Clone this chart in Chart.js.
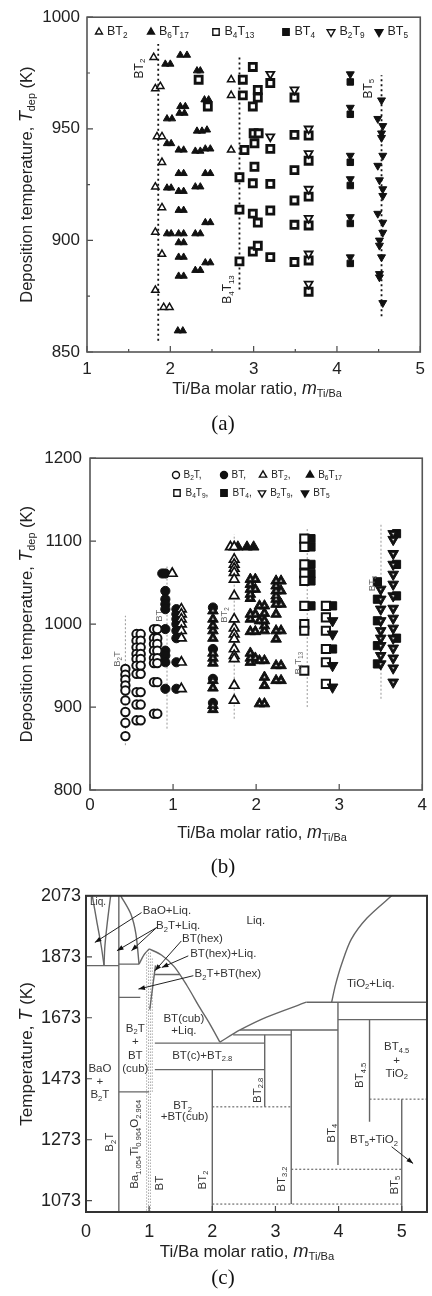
<!DOCTYPE html>
<html>
<head>
<meta charset="utf-8">
<script src="https://cdn.jsdelivr.net/npm/chart.js@4.4.0/dist/chart.umd.min.js"></script>
<style>
  body { margin: 0; background: #fff; width: 432px; height: 1296px; position: relative; overflow: hidden; }
  canvas { position: absolute; left: 0; }
</style>
</head>
<body>
<canvas id="ca" width="432" height="440" style="top:0px"></canvas>
<canvas id="cb" width="432" height="440" style="top:440px"></canvas>
<canvas id="cc" width="432" height="416" style="top:880px"></canvas>
<script>
// ---------- panel (a): deposition temperature vs Ti/Ba, [m, T] ----------
const aBT2 = [[1.80, 982], [1.82, 968], [1.88, 969], [1.84, 946.5], [1.90, 946.5], [1.90, 935], [1.82, 924],
  [1.90, 914.7], [1.82, 903.7], [1.90, 893.8], [1.82, 877.7], [1.92, 870], [1.99, 870],
  [2.73, 972], [2.73, 965], [2.73, 940.5]]
const aB6T17 = [[1.94, 979], [2.00, 979], [2.12, 983], [2.20, 983], [2.32, 976], [2.36, 976], [2.41, 963], [2.46, 963],
  [2.12, 960], [2.18, 960], [2.11, 957], [2.17, 957], [1.96, 954.5], [2.02, 954.5], [2.32, 949], [2.38, 949], [2.44, 949.5],
  [1.96, 943.4], [2.01, 943.4], [2.10, 940.5], [2.16, 940.5], [2.30, 940], [2.36, 940], [2.42, 941], [2.48, 941],
  [2.10, 930], [2.16, 930], [2.42, 930], [2.48, 930], [1.96, 923.5], [2.01, 923.5], [2.10, 922], [2.16, 922],
  [2.30, 924], [2.36, 924], [2.10, 913.5], [2.16, 913.5], [2.42, 908], [2.48, 908], [1.96, 903], [2.01, 903],
  [2.10, 903], [2.16, 903], [2.10, 899], [2.16, 899], [2.30, 903], [2.36, 903], [2.10, 892.5], [2.16, 892.5],
  [2.42, 890], [2.48, 890], [2.30, 886.6], [2.36, 886.6], [2.10, 884], [2.16, 884], [2.09, 859.5], [2.15, 859.5]]
const aB4T13 = [[2.87, 972], [2.87, 965], [2.89, 940.5], [2.83, 928.3], [2.83, 913.8], [2.83, 890.6], [2.34, 972], [2.45, 960],
  [2.99, 977.7], [3.05, 967.4], [3.05, 964], [2.99, 960], [3.00, 948], [3.06, 948], [3.01, 943.5], [3.01, 933],
  [2.99, 925.6], [2.99, 912], [3.05, 908], [2.99, 895], [3.05, 897.6],
  [3.20, 970.5], [3.20, 941], [3.20, 925.3], [3.20, 913.4], [3.20, 892.5],
  [3.49, 964], [3.49, 947.3], [3.49, 931.5], [3.49, 917.9], [3.49, 907], [3.49, 890.3],
  [3.66, 947], [3.66, 935.7], [3.66, 919.6], [3.66, 906.7], [3.66, 891], [3.66, 877]]
const aBT4 = [[4.16, 971], [4.16, 956.5], [4.16, 935], [4.16, 924.6], [4.16, 907.6], [4.16, 889.7]]
const aB2T9 = [[3.20, 974.5], [3.20, 946.5], [3.49, 967.5], [3.66, 950], [3.66, 939], [3.66, 923], [3.66, 910],
  [3.66, 894], [3.66, 880.5]]
const aBT5 = [[4.16, 974.5], [4.16, 959.5], [4.16, 938], [4.16, 927.5], [4.16, 910.5], [4.16, 892.5],
  [4.535, 962.8], [4.49, 954.5], [4.55, 951.3], [4.535, 948], [4.535, 946], [4.55, 938], [4.49, 933.5], [4.51, 927],
  [4.55, 923], [4.55, 920], [4.49, 912], [4.55, 908], [4.55, 903.5], [4.51, 900], [4.51, 897.7], [4.535, 892.5],
  [4.51, 885], [4.51, 883.5], [4.55, 872]]
// composition guide lines [m, T bottom, T top, label, label m, label T]
const aGuides = [[1.855, 855, 988, 'BT_{2}', 1.63, 977], [2.83, 878, 982, 'B_{4}T_{13}', 2.69, 878], [4.535, 866, 974, 'BT_{5}', 4.38, 968]]
const aXTicks = [1, 2, 3, 4, 5]
const aXMinor = [1.5, 2.5, 3.5, 4.5]
const aYTicks = [850, 900, 950, 1000]
const aYMinor = [875, 925, 975]

// ---------- panel (b): columns [m, [T...]] ----------
const bB2T = [[0.426, [946, 939, 933, 926, 920, 908, 894, 881, 865]],
  [0.56, [988, 980, 972, 964, 958, 950, 940, 918, 903, 884]],
  [0.61, [988, 980, 972, 964, 958, 950, 940, 918, 903, 884]],
  [0.77, [994, 983, 976, 968, 959, 953, 930, 892]],
  [0.81, [994, 983, 976, 968, 959, 953, 930, 892]]]
const bBT = [[0.87, [1061]], [0.907, [1061, 1040, 1030, 1024, 1018, 994, 968, 962, 954, 922]],
  [1.04, [1018, 1012, 1006, 1000, 992, 983, 954, 922]], [1.48, [1020, 970, 934, 905]]]
const bBT2 = [[0.99, [1061]], [1.10, [1018, 1012, 1006, 1000, 992, 983, 954, 922]], [1.69, [1093]],
  [1.736, [1093, 1078, 1072, 1067, 1062, 1054, 1034, 1006, 995, 988, 982, 970, 962, 958, 926, 908]]]
const bB6T17 = [[1.48, [1016, 1006, 998, 992, 983, 965, 959, 953, 932, 923, 902, 897]],
  [1.78, [1093]], [1.89, [1093]], [1.97, [1093]],
  [1.93, [1054, 1048, 1042, 1036, 1031, 1012, 1006, 991, 965, 959, 954]],
  [1.99, [1054, 1042, 1012, 991, 959]],
  [2.04, [1022, 1004, 956, 904]],
  [2.10, [1022, 1013, 1004, 998, 992, 956, 936, 926, 904]],
  [2.24, [1052, 1046, 1040, 1034, 1030, 1024, 1012, 992, 982, 950, 932]],
  [2.30, [1052, 1040, 1024, 992, 950, 932]]]
const bB4T9 = [[2.58, [1103, 1093, 1072, 1061, 1052, 1022, 1000, 992, 944]], [2.84, [1022, 1008, 992, 970, 954, 928]]]
const bBT4 = [[2.66, [1103, 1093, 1072, 1061, 1052, 1022]], [2.92, [1022, 970]],
  [3.46, [1051, 1030, 1004, 974, 952]], [3.69, [1109, 1072, 1034, 983]]]
const bBT5 = [[2.92, [1004, 988, 950, 924]], [3.50, [1042, 1030, 1018, 1004, 992, 983, 974, 962, 952]],
  [3.65, [1109, 1102, 1085, 1072, 1060, 1048, 1034, 1019, 1007, 995, 983, 971, 959, 947, 930]]]
const bGuides = [[0.426, 854, 1010, 'B_{2}T', 0.33, 958], [0.927, 874, 1072, 'BT', 0.83, 1010],
  [1.736, 886, 1108, 'BT_{2}', 1.62, 1011], [2.615, 900, 1115, 'B_{4}T_{13}', 2.51, 953], [3.503, 910, 1120, 'BT_{4}', 3.40, 1049]]
const bXTicks = [0, 1, 2, 3, 4]
const bYTicks = [800, 900, 1000, 1100, 1200]

// ---------- panel (c): phase diagram lines [m, T] ----------
const cSolid = [
  [[0.52, 1036], [0.52, 2073]],
  [[0, 1844], [0.52, 1844]],
  [[0.52, 1849], [0.84, 1849]],
  [[0.10, 2073], [0.17, 1990], [0.24, 1910], [0.285, 1846]],
  [[0.39, 2073], [0.34, 1990], [0.30, 1910], [0.285, 1846]],
  [[0.55, 2073], [0.71, 2013], [0.79, 1948], [0.84, 1849]],
  [[0.84, 1849], [0.92, 1880], [1.0, 1899]],
  [[1.0, 1899], [1.2, 1878], [1.4, 1840], [1.6, 1778], [1.8, 1707], [1.96, 1653], [2.12, 1593]],
  [[2.12, 1593], [2.44, 1633], [2.86, 1675], [3.49, 1724]],
  [[3.49, 1724], [5.4, 1724]],
  [[3.89, 1724], [3.95, 1780], [4.05, 1850], [4.2, 1930], [4.45, 2000], [4.84, 2073]],
  [[3.99, 1190], [3.99, 1724]],
  [[3.99, 1667], [5.4, 1667]],
  [[4.49, 1332], [4.49, 1667]],
  [[5.0, 1036], [5.0, 1406]],
  [[3.25, 1062], [3.25, 1633]],
  [[2.0, 1036], [2.0, 1503]],
  [[2.83, 1381], [2.83, 1617]],
  [[2.44, 1633], [3.99, 1633]],
  [[2.33, 1617], [3.25, 1617]],
  [[1.09, 1590], [2.83, 1590]],
  [[1.09, 1503], [2.83, 1503]],
  [[1.08, 1815], [1.49, 1815]],
  [[0.52, 1740], [0.86, 1740]],
  [[0.52, 1430], [1.0, 1430]],
  [[1.10, 1845], [1.01, 1700]]]
const cDotted = [
  [[4.49, 1406], [5.4, 1406]],
  [[3.25, 1176], [5.0, 1176]],
  [[2.0, 1062], [5.0, 1062]],
  [[2.0, 1381], [3.25, 1381]]]
const cHatch = [
  [[0.96, 1040], [0.96, 1885]],
  [[0.99, 1036], [0.99, 1895]],
  [[1.02, 1036], [1.02, 1890]],
  [[1.05, 1430], [1.05, 1870]]]
const cArrows = [[0.88, 2018, 0.14, 1920], [1.12, 1969, 0.49, 1893], [1.12, 1969, 0.72, 1893],
  [1.51, 1925, 1.09, 1827], [1.62, 1876, 1.20, 1838], [1.70, 1811, 0.83, 1767], [4.84, 1250, 5.18, 1195]]
// [text, m, T, align, rotated]
const cLabels = [
  ['Liq.', 0.19, 2052, 'center'],
  ['BaO+Liq.', 0.90, 2023, 'left'], ['B_{2}T+Liq.', 1.11, 1974, 'left'], ['BT(hex)', 1.52, 1932, 'left'],
  ['BT(hex)+Liq.', 1.65, 1882, 'left'], ['B_{2}T+BT(hex)', 1.72, 1816, 'left'],
  ['Liq.', 2.69, 1991, 'center'], ['TiO_{2}+Liq.', 4.51, 1784, 'center'],
  ['BT(cub)', 1.55, 1669, 'center'], ['+Liq.', 1.55, 1629, 'center'], ['BT(c)+BT_{2.8}', 1.84, 1549, 'center'],
  ['B_{2}T', 0.78, 1637, 'center'], ['+', 0.78, 1593, 'center'], ['BT', 0.78, 1549, 'center'], ['(cub)', 0.78, 1506, 'center'],
  ['BaO', 0.22, 1506, 'center'], ['+', 0.22, 1462, 'center'], ['B_{2}T', 0.22, 1419, 'center'],
  ['BT_{2}', 1.53, 1383, 'center'], ['+BT(cub)', 1.56, 1349, 'center'],
  ['BT_{4.5}', 4.92, 1577, 'center'], ['+', 4.92, 1533, 'center'], ['TiO_{2}', 4.92, 1490, 'center'],
  ['BT_{5}+TiO_{2}', 4.56, 1272, 'center'],
  ['BT_{2.8}', 2.72, 1435, 'center', true], ['BT_{4.5}', 4.34, 1484, 'center', true],
  ['B_{2}T', 0.38, 1265, 'center', true], ['Ba_{1.054}Ti_{0.964}O_{2.964}', 0.78, 1258, 'center', true],
  ['BT', 1.17, 1131, 'center', true], ['BT_{2}', 1.85, 1141, 'center', true], ['BT_{3.2}', 3.10, 1144, 'center', true],
  ['BT_{4}', 3.89, 1294, 'center', true], ['BT_{5}', 4.89, 1124, 'center', true]]
const cXTicks = [0, 1, 2, 3, 4, 5]
const cYTicks = [1073, 1273, 1473, 1673, 1873, 2073]

const SANS = '"Liberation Sans", Arial, Helvetica, sans-serif'
const SERIF = '"Liberation Serif", "Times New Roman", serif'

// text with _{sub} and *italic*
function rich(ctx, str, x, y, size, o = {}) {
  let segs = []
  let re = /_\{([^}]*)\}|\*([^*]*)\*|([^_*]+)/g
  let m
  while ((m = re.exec(str)) !== null) {
    if (m[1] !== undefined) segs.push({ t: m[1], sub: true })
    else if (m[2] !== undefined) segs.push({ t: m[2], it: true })
    else segs.push({ t: m[3] })
  }
  let fam = o.family || SANS
  let fontOf = s => (s.it ? 'italic ' : '') + (s.sub ? size * 0.66 : s.it ? size * 1.08 : size) + 'px ' + fam
  ctx.save()
  ctx.translate(x, y)
  if (o.rot) ctx.rotate(-Math.PI / 2)
  ctx.fillStyle = o.color || '#222'
  ctx.textBaseline = 'middle'
  ctx.textAlign = 'left'
  let w = 0
  segs.forEach(s => { ctx.font = fontOf(s); s.w = ctx.measureText(s.t).width; w += s.w })
  let cx = o.align === 'left' ? 0 : o.align === 'right' ? -w : -w / 2
  segs.forEach(s => {
    ctx.font = fontOf(s)
    ctx.fillText(s.t, cx, s.sub ? size * 0.3 : 0)
    cx += s.w
  })
  ctx.restore()
}

const xy = pairs => pairs.map(([x, y]) => ({ x, y }))
const cols = list => list.flatMap(([x, ts]) => ts.map(t => ({ x, y: t })))

function marks(data, shape, r, filled, order, bw) {
  return {
    data, showLine: false, order,
    pointStyle: shape === 'down' ? 'triangle' : shape,
    pointRotation: shape === 'down' ? 180 : 0,
    pointRadius: r, pointHoverRadius: r,
    pointBackgroundColor: filled ? '#111' : '#fff',
    pointBorderColor: '#111',
    pointBorderWidth: bw || (filled ? 1 : 1.5)
  }
}

function path(data, color, width, dash, tension) {
  return { data, showLine: true, pointRadius: 0, borderColor: color, borderWidth: width,
    borderDash: dash || [], order: 30, tension: tension || 0 }
}

function opts(p) {
  return {
    responsive: false, animation: false, devicePixelRatio: 1,
    layout: { padding: p.pad },
    plugins: { legend: { display: false }, tooltip: { enabled: false } },
    scales: {
      x: {
        type: 'linear', min: p.x[0], max: p.x[1],
        grid: { display: false, drawTicks: false }, border: { display: false },
        ticks: { padding: p.xPad, color: '#222', font: { family: SANS, size: p.font }, callback: v => String(v) },
        afterBuildTicks: s => { s.ticks = p.xTicks.map(v => ({ value: v })) },
        afterFit: s => { s.height = p.xH }
      },
      y: {
        type: 'linear', min: p.y[0], max: p.y[1],
        grid: { display: false, drawTicks: false }, border: { display: false },
        ticks: { padding: p.yPad, color: '#222', font: { family: SANS, size: p.font }, callback: v => String(v) },
        afterBuildTicks: s => { s.ticks = p.yTicks.map(v => ({ value: v })) },
        afterFit: s => { s.width = p.yW }
      }
    }
  }
}

// frame, inward ticks, titles
function deco(p) {
  return {
    id: 'deco',
    afterDatasetsDraw(chart) {
      let { ctx, chartArea: a, scales: { x, y } } = chart
      ctx.save()
      ctx.strokeStyle = '#4a4a4a'
      ctx.lineWidth = 1.2
      ctx.beginPath()
      p.xTicks.forEach(v => { let px = x.getPixelForValue(v); ctx.moveTo(px, a.bottom); ctx.lineTo(px, a.bottom - 6) })
      p.yTicks.forEach(v => { let py = y.getPixelForValue(v); ctx.moveTo(a.left, py); ctx.lineTo(a.left + 6, py) })
      ;(p.xMinor || []).forEach(v => { let px = x.getPixelForValue(v); ctx.moveTo(px, a.bottom); ctx.lineTo(px, a.bottom - 3) })
      ;(p.yMinor || []).forEach(v => { let py = y.getPixelForValue(v); ctx.moveTo(a.left, py); ctx.lineTo(a.left + 3, py) })
      ctx.stroke()
      ctx.lineWidth = p.frameW || 1.6
      ctx.strokeStyle = p.frameC || '#555'
      ctx.strokeRect(a.left, a.top, a.right - a.left, a.bottom - a.top)
      ctx.restore()
      rich(ctx, p.yTitle, 27, (a.top + a.bottom) / 2, p.titleSize, { rot: true })
      rich(ctx, p.xTitle, p.xTitleX, p.xTitleY, p.titleSize)
      rich(ctx, p.tag, p.tagX, p.tagY, 21, { family: SERIF, color: '#111' })
      if (p.extra) p.extra(chart, ctx, x, y)
    }
  }
}

function legendItem(ctx, x, y, shape, filled, r, label, size) {
  ctx.save()
  ctx.fillStyle = filled ? '#111' : '#fff'
  ctx.strokeStyle = '#111'
  ctx.lineWidth = 1.4
  Chart.helpers.drawPoint(ctx, { pointStyle: shape === 'down' ? 'triangle' : shape, rotation: shape === 'down' ? 180 : 0,
    radius: r, borderWidth: 1.4 }, x, y)
  ctx.restore()
  rich(ctx, label, x + r + 4, y, size, { align: 'left' })
}

// ---------- chart (a) ----------
new Chart(document.getElementById('ca'), {
  type: 'scatter',
  data: {
    datasets: [
      ...aGuides.map(g => path([{ x: g[0], y: g[1] }, { x: g[0], y: g[2] }], '#111', 1.8, [2, 3])),
      marks(xy(aBT2), 'triangle', 4.2, false, 2, 1.5),
      marks(xy(aB6T17), 'triangle', 4.2, true, 2),
      marks(xy(aB2T9), 'down', 4.6, false, 1, 1.8),
      marks(xy(aBT5), 'down', 4.6, true, 1),
      marks(xy(aB4T13), 'rect', 5, false, 3, 2.8),
      marks(xy(aBT4), 'rect', 4.6, true, 3)
    ]
  },
  options: opts({ x: [1, 5], y: [850, 1000], xTicks: aXTicks, yTicks: aYTicks, yW: 87, xH: 88,
    pad: { top: 16, right: 6, left: 0, bottom: 0 }, font: 17, xPad: 7, yPad: 7 }),
  plugins: [deco({
    xTicks: aXTicks, yTicks: aYTicks, xMinor: aXMinor, yMinor: aYMinor, titleSize: 16.5,
    yTitle: 'Deposition temperature, *T*_{dep} (K)', xTitle: 'Ti/Ba molar ratio, *m*_{Ti/Ba}',
    xTitleX: 257, xTitleY: 389, tag: '(a)', tagX: 223, tagY: 424,
    extra(chart, ctx, x, y) {
      aGuides.forEach(g => rich(ctx, g[3], x.getPixelForValue(g[4]), y.getPixelForValue(g[5]), 12, { rot: true }))
      legendItem(ctx, 99, 32, 'triangle', false, 4, 'BT_{2}', 12.5)
      legendItem(ctx, 151, 32, 'triangle', true, 4, 'B_{6}T_{17}', 12.5)
      legendItem(ctx, 216, 32, 'rect', false, 4.5, 'B_{4}T_{13}', 12.5)
      legendItem(ctx, 286, 32, 'rect', true, 4.5, 'BT_{4}', 12.5)
      legendItem(ctx, 331, 32, 'down', false, 4.5, 'B_{2}T_{9}', 12.5)
      legendItem(ctx, 379, 32, 'down', true, 4.5, 'BT_{5}', 12.5)
    }
  })]
})

// ---------- chart (b) ----------
const bB6all = cols(bB6T17)
const bBT5all = cols(bBT5)
new Chart(document.getElementById('cb'), {
  type: 'scatter',
  data: {
    datasets: [
      ...bGuides.map(g => path([{ x: g[0], y: g[1] }, { x: g[0], y: g[2] }], '#999', 1, [2, 2])),
      marks(bB6all.filter(p => p.y < 1090), 'triangle', 2, false, 0, 0.8),
      marks(bBT5all.filter(p => p.x > 3), 'down', 2, false, 0, 0.8),
      marks(cols(bBT2), 'triangle', 5.5, false, 2, 1.7),
      marks(bB6all, 'triangle', 6.2, true, 3),
      marks(cols(bBT5), 'down', 6.2, true, 3),
      marks(cols(bB2T), 'circle', 4.2, false, 4, 2),
      marks(cols(bBT), 'circle', 4.6, true, 4),
      marks(cols(bB4T9), 'rect', 5.8, false, 5, 2),
      marks(cols(bBT4), 'rect', 5.8, true, 6)
    ]
  },
  options: opts({ x: [0, 4], y: [800, 1200], xTicks: bXTicks, yTicks: bYTicks, yW: 90, xH: 90,
    pad: { top: 17, right: 4, left: 0, bottom: 0 }, font: 17, xPad: 5, yPad: 8 }),
  plugins: [deco({
    xTicks: bXTicks, yTicks: bYTicks, titleSize: 16.5,
    yTitle: 'Deposition temperature, *T*_{dep} (K)', xTitle: 'Ti/Ba molar ratio, *m*_{Ti/Ba}',
    xTitleX: 262, xTitleY: 393, tag: '(b)', tagX: 223, tagY: 427,
    extra(chart, ctx, x, y) {
      bGuides.forEach(g => rich(ctx, g[3], x.getPixelForValue(g[4]), y.getPixelForValue(g[5]), 9.5, { rot: true, color: '#666' }))
      legendItem(ctx, 176, 35, 'circle', false, 3.5, 'B_{2}T,', 10)
      legendItem(ctx, 224, 35, 'circle', true, 3.5, 'BT,', 10)
      legendItem(ctx, 263, 35, 'triangle', false, 4.2, 'BT_{2},', 10)
      legendItem(ctx, 310, 35, 'triangle', true, 4.2, 'B_{6}T_{17}', 10)
      legendItem(ctx, 177, 53, 'rect', false, 4.5, 'B_{4}T_{9},', 10)
      legendItem(ctx, 224, 53, 'rect', true, 4.5, 'BT_{4},', 10)
      legendItem(ctx, 262, 53, 'down', false, 4.2, 'B_{2}T_{9},', 10)
      legendItem(ctx, 305, 53, 'down', true, 4.2, 'BT_{5}', 10)
    }
  })]
})

// ---------- chart (c) ----------
new Chart(document.getElementById('cc'), {
  type: 'scatter',
  data: {
    datasets: [
      ...cSolid.map(l => path(xy(l), '#666', 1.4, [], l.length > 2 ? 0.3 : 0)),
      ...cDotted.map(l => path(xy(l), '#777', 1.3, [2, 2])),
      ...cHatch.map(l => path(xy(l), '#aaa', 1, [1.5, 1.5]))
    ]
  },
  options: opts({ x: [0, 5.4], y: [1036, 2073], xTicks: cXTicks, yTicks: cYTicks, yW: 86, xH: 84,
    pad: { top: 15, right: 5, left: 0, bottom: 0 }, font: 18, xPad: 9, yPad: 5 }),
  plugins: [deco({
    xTicks: cXTicks, yTicks: cYTicks, titleSize: 17, frameW: 2, frameC: '#333',
    yTitle: 'Temperature, *T* (K)', xTitle: 'Ti/Ba molar ratio, *m*_{Ti/Ba}',
    xTitleX: 247, xTitleY: 372, tag: '(c)', tagX: 223, tagY: 398,
    extra(chart, ctx, x, y) {
      ctx.save()
      ctx.strokeStyle = '#222'
      ctx.fillStyle = '#111'
      ctx.lineWidth = 1
      cArrows.forEach(([m0, t0, m1, t1]) => {
        let x0 = x.getPixelForValue(m0), y0 = y.getPixelForValue(t0)
        let x1 = x.getPixelForValue(m1), y1 = y.getPixelForValue(t1)
        let ang = Math.atan2(y1 - y0, x1 - x0)
        ctx.beginPath(); ctx.moveTo(x0, y0); ctx.lineTo(x1, y1); ctx.stroke()
        ctx.beginPath()
        ctx.moveTo(x1, y1)
        ctx.lineTo(x1 - 7 * Math.cos(ang - 0.35), y1 - 7 * Math.sin(ang - 0.35))
        ctx.lineTo(x1 - 7 * Math.cos(ang + 0.35), y1 - 7 * Math.sin(ang + 0.35))
        ctx.closePath(); ctx.fill()
      })
      ctx.restore()
      cLabels.forEach(([t, m, T, al, rot]) => {
        let size = t === 'Liq.' && m < 0.5 ? 10 : 11.5
        rich(ctx, t, x.getPixelForValue(m), y.getPixelForValue(T), size, { align: al, rot: rot, color: '#333' })
      })
    }
  })]
})
</script>
</body>
</html>
